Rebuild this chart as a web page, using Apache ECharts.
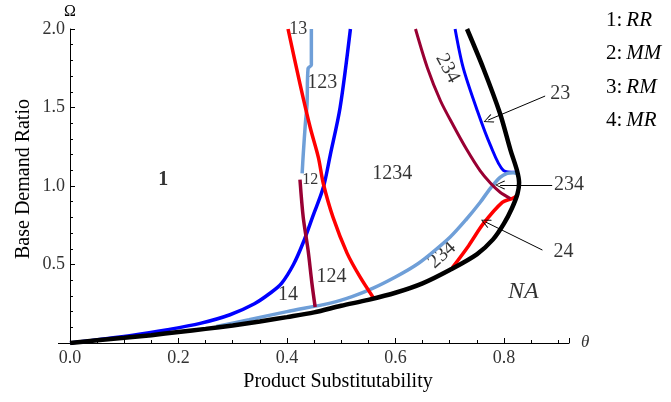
<!DOCTYPE html>
<html>
<head>
<meta charset="utf-8">
<script src="https://cdn.jsdelivr.net/npm/echarts@6/dist/echarts.min.js"></script>
<style>
  html, body { margin: 0; padding: 0; background: #fff; }
  #chart { width: 671px; height: 402px; }
</style>
</head>
<body>
<div id="chart"></div>
<script>
// boundary curves, [theta, omega]
const blackCurve = [[0, 0], [0.05, 0.017], [0.1, 0.033], [0.15, 0.05], [0.2, 0.07], [0.25, 0.09], [0.3, 0.112], [0.35, 0.137], [0.4, 0.165], [0.45, 0.195], [0.5, 0.237], [0.55, 0.275], [0.6, 0.32], [0.65, 0.38], [0.7, 0.465], [0.75, 0.565], [0.78, 0.66], [0.8, 0.76], [0.815, 0.86], [0.825, 0.95], [0.828, 1.02], [0.824, 1.1], [0.812, 1.23], [0.793, 1.46], [0.762, 1.75], [0.732, 2.0]];
const lightBlueLow = [[0.27, 0.105], [0.33, 0.148], [0.4, 0.2], [0.48, 0.254], [0.52, 0.295], [0.559, 0.349], [0.6, 0.42], [0.635, 0.49], [0.664, 0.565], [0.701, 0.675], [0.73, 0.785], [0.756, 0.895], [0.775, 0.985], [0.793, 1.055], [0.806, 1.08], [0.817, 1.085], [0.825, 1.08]];
const lightBlueHigh = [[0.428, 1.08], [0.43, 1.2], [0.434, 1.4], [0.437, 1.52], [0.439, 1.75], [0.445, 1.77], [0.445, 2.0]];
const blueLeft = [[0, 0], [0.116, 0.05], [0.18, 0.085], [0.24, 0.125], [0.295, 0.18], [0.34, 0.25], [0.37, 0.32], [0.39, 0.38], [0.412, 0.5], [0.43, 0.64], [0.448, 0.81], [0.467, 0.99], [0.48, 1.2], [0.498, 1.5], [0.517, 2.0]];
const blueRight = [[0.71, 2.0], [0.725, 1.752], [0.751, 1.479], [0.775, 1.26], [0.799, 1.1], [0.821, 1.088]];
const redUpper = [[0.402, 2.0], [0.424, 1.651], [0.443, 1.371], [0.458, 1.181], [0.467, 1.016], [0.485, 0.8], [0.511, 0.571], [0.535, 0.419], [0.559, 0.29]];
const redLower = [[0.705, 0.48], [0.735, 0.62], [0.762, 0.76], [0.797, 0.896], [0.815, 0.92], [0.825, 0.94]];
const maroonLeft = [[0.424, 1.04], [0.43, 0.8], [0.439, 0.59], [0.446, 0.381], [0.452, 0.229]];
const maroonRight = [[0.637, 2.0], [0.659, 1.752], [0.683, 1.543], [0.707, 1.384], [0.732, 1.229], [0.756, 1.098], [0.775, 1.019], [0.793, 0.96], [0.812, 0.92]];

// region labels
const regionText = ['1', '12', '13', '123', '14', '124', '1234', '234', '234', 'NA', '23', '234', '24'];
const regionX = [0.172, 0.443, 0.421, 0.465, 0.402, 0.482, 0.594, 0.696, 0.686, 0.836, 0.904, 0.92, 0.91];
const regionY = [1.04, 1.04, 2.0, 1.66, 0.31, 0.42, 1.08, 1.75, 0.56, 0.325, 1.59, 1.006, 0.58];

// arrows: start -> tip
const arrowFrom = [[0.876, 1.573], [0.889, 1.006], [0.871, 0.592]];
const arrowTo = [[0.771, 1.42], [0.793, 1.006], [0.766, 0.771]];

// strategy key
const keyNum = ['1', '2', '3', '4'];
const keyName = ['RR', 'MM', 'RM', 'MR'];

const serif = 'Liberation Serif';
const chart = echarts.init(document.getElementById('chart'));

function curve(name, data, color, width) {
  return {
    name: name,
    type: 'line',
    data: data,
    symbol: 'none',
    smooth: 0.3,
    lineStyle: { color: color, width: width },
    silent: true
  };
}

const labelStyle = {
  '1': { fontWeight: 'bold' },
  '12': { fontSize: 16 },
  '13': { fontSize: 18 },
  'NA': { fontStyle: 'italic', fontSize: 24 }
};
const labelRotate = [0, 0, 0, 0, 0, 0, 0, -62, 42, 0, 0, 0, 0];

const labelData = regionText.map((t, i) => ({
  value: [regionX[i], regionY[i]],
  label: Object.assign({
    show: true,
    position: 'inside',
    formatter: t,
    rotate: labelRotate[i],
    fontFamily: serif,
    fontSize: 20,
    color: '#000'
  }, labelStyle[t] || {})
}));

const chevron = 'path://M0,0 L6,10 L5,10.8 L0,1.8 L-5,10.8 L-6,10 Z';

const option = {
  animation: false,
  backgroundColor: '#fff',
  grid: { left: 70, right: 102, top: 29, bottom: 59, containLabel: false },
  xAxis: {
    type: 'value',
    min: 0,
    max: 0.92,
    interval: 0.2,
    name: 'θ',
    nameLocation: 'end',
    nameGap: 12,
    nameTextStyle: { fontFamily: serif, fontStyle: 'italic', fontSize: 17, color: '#333', verticalAlign: 'middle' },
    axisLine: { lineStyle: { color: '#000', width: 1 } },
    axisTick: { inside: true, length: 5, lineStyle: { color: '#000' } },
    minorTick: { show: true, splitNumber: 4, length: 3, lineStyle: { color: '#000' } },
    splitLine: { show: false },
    axisLabel: {
      showMaxLabel: false,
      margin: 6,
      fontFamily: serif,
      fontSize: 18,
      color: '#333',
      formatter: v => v.toFixed(1)
    }
  },
  yAxis: {
    type: 'value',
    min: 0,
    max: 2,
    interval: 0.5,
    name: 'Ω',
    nameLocation: 'end',
    nameGap: 6,
    nameTextStyle: { fontFamily: serif, fontSize: 16, color: '#000' },
    axisLine: { show: true, lineStyle: { color: '#000', width: 1 } },
    axisTick: { inside: true, length: 5, lineStyle: { color: '#000' } },
    minorTick: { show: true, splitNumber: 5, length: 3, lineStyle: { color: '#000' } },
    splitLine: { show: false },
    axisLabel: {
      showMinLabel: false,
      margin: 5,
      fontFamily: serif,
      fontSize: 18,
      color: '#333',
      formatter: v => v.toFixed(1)
    }
  },
  graphic: [
    {
      type: 'text',
      x: 24,
      y: 179,
      rotation: Math.PI / 2,
      style: {
        text: 'Base Demand Ratio',
        font: '20px "Liberation Serif"',
        fill: '#000',
        textAlign: 'center',
        textVerticalAlign: 'middle'
      }
    },
    {
      type: 'text',
      x: 338,
      y: 382,
      style: {
        text: 'Product Substitutability',
        font: '20px "Liberation Serif"',
        fill: '#000',
        textAlign: 'center',
        textVerticalAlign: 'middle'
      }
    },
    {
      // axis line runs a little past the origin
      type: 'line',
      shape: { x1: 58, y1: 343.5, x2: 70, y2: 343.5 },
      style: { stroke: '#000', lineWidth: 1 }
    }
  ].concat(keyNum.map((n, i) => ({
    type: 'text',
    x: 606,
    y: 20 + i * 33.5,
    style: {
      text: '{n|' + n + ':}{k|' + keyName[i] + '}',
      textVerticalAlign: 'middle',
      rich: {
        n: { fontFamily: serif, fontSize: 21, fill: '#000', padding: [0, 4, 0, 0] },
        k: { fontFamily: serif, fontSize: 21, fontStyle: 'italic', fill: '#000' }
      }
    }
  }))),
  series: [
    curve('blueLeft', blueLeft, '#0000ff', 3.5),
    curve('blueRight', blueRight, '#0000ff', 3),
    curve('lightBlueLow', lightBlueLow, '#6f9fd8', 3.5),
    curve('lightBlueHigh', lightBlueHigh, '#6f9fd8', 3.5),
    curve('redUpper', redUpper, '#ff0000', 3.5),
    curve('redLower', redLower, '#ff0000', 3.5),
    curve('maroonLeft', maroonLeft, '#990033', 3.5),
    curve('maroonRight', maroonRight, '#990033', 3),
    curve('black', blackCurve, '#000000', 4.5),
    {
      type: 'scatter',
      data: labelData,
      symbolSize: 0,
      clip: false,
      silent: true,
      markLine: {
        silent: true,
        symbol: ['none', chevron],
        symbolSize: [9, 10],
        lineStyle: { color: '#000', width: 1, type: 'solid' },
        label: { show: false },
        data: arrowFrom.map((p, i) => [{ coord: p }, { coord: arrowTo[i] }])
      }
    }
  ]
};

chart.setOption(option);
</script>
</body>
</html>
